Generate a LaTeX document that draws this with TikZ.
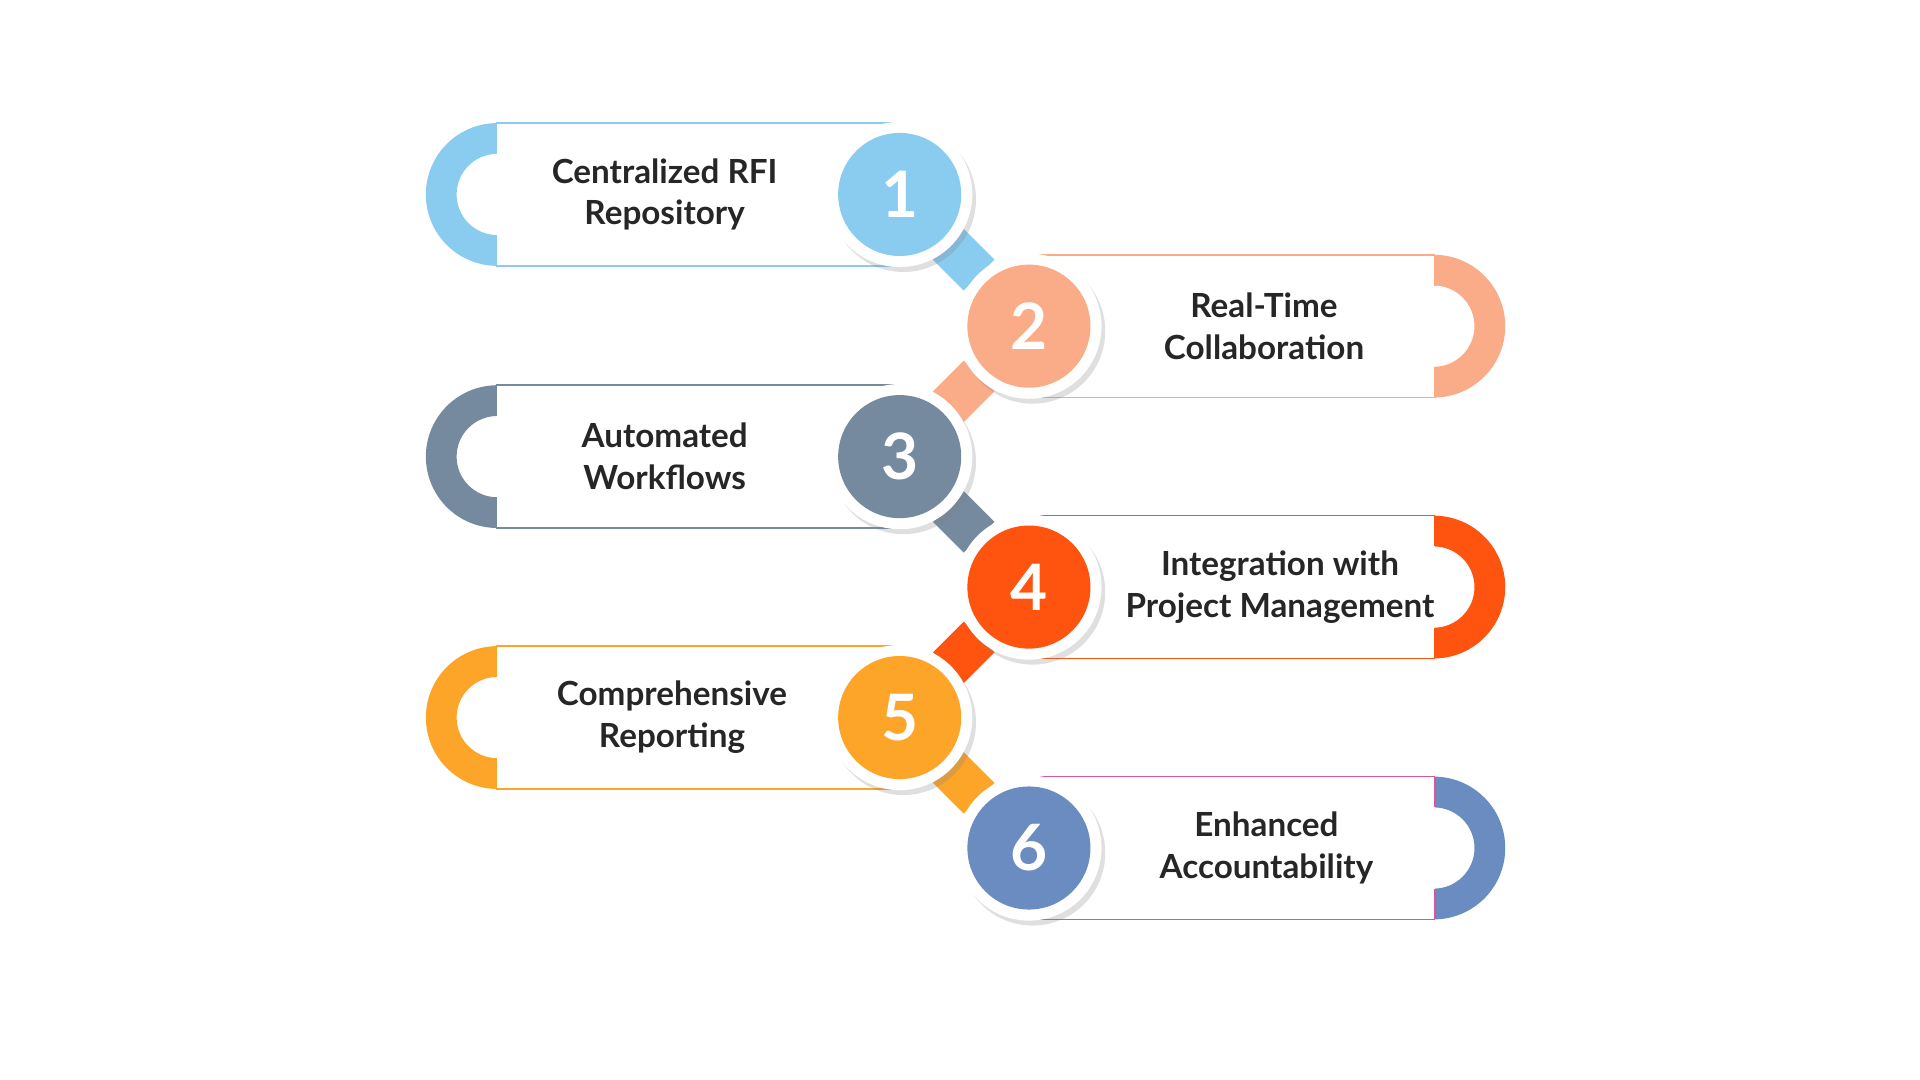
\documentclass[tikz,border=0pt]{standalone}
\usepackage{fontspec}
\setmainfont{Lato}
\usetikzlibrary{shadows}
\definecolor{c1}{HTML}{8ACBF0}
\definecolor{c2}{HTML}{F9AC87}
\definecolor{c3}{HTML}{768A9F}
\definecolor{c4}{HTML}{FF5410}
\definecolor{c5}{HTML}{FCA528}
\definecolor{c6}{HTML}{6A8CC0}
\definecolor{c6b}{HTML}{D9559F}
\tikzset{
  lbl/.style={font=\bfseries\fontsize{27}{34}\selectfont, align=center, text=black!85},
  num/.style={circle, minimum size=100pt, inner sep=0pt, text=white, font=\bfseries\fontsize{52}{52}\selectfont},
  ring/.style={circle, fill=white, minimum size=118pt, inner sep=0pt, drop shadow={shadow xshift=3pt, shadow yshift=-4pt, opacity=0.25}},
}
\begin{document}
\begin{tikzpicture}[x=1pt,y=-1pt]
\useasboundingbox (0,0) rectangle (1560,877.5);
% connectors
\foreach \ya/\col in {158/c1,265/c2,371/c3,477/c4,583/c5}{
  \fill[\col] (783,\ya+28) -- (808,\ya+53) -- (783,\ya+78) -- (758,\ya+53) -- cycle;
}
% left rows
\foreach \y/\col/\n/\t/\tx in {158/c1/1/{Centralized RFI\\Repository}/540, 371/c3/3/{Automated\\Workflows}/540, 583/c5/5/{Comprehensive\\Reporting}/546}{
  \begin{scope}
    \clip (340,\y-60) rectangle (403,\y+60);
    \fill[\col, even odd rule] (404,\y) circle (58) (404,\y) circle (33);
  \end{scope}
  \draw[\col, line width=1.2pt] (403,\y-58) -- (730,\y-58) (403,\y+58) -- (730,\y+58);
  \draw[\col, line width=2pt] (403,\y-58) -- (403,\y-33) (403,\y+33) -- (403,\y+58);
  \node[lbl] at (\tx,\y) {\t};
  \node[ring] at (731,\y) {};
  \node[num, fill=\col] (n\n) at (731,\y) {\n};
}
% right rows
\foreach \y/\col/\bcol/\n/\t/\tx in {265/c2/c2/2/{Real-Time\\Collaboration}/1027, 477/c4/c4/4/{Integration with\\Project Management}/1040, 689/c6/c6b/6/{Enhanced\\Accountability}/1029}{
  \begin{scope}
    \clip (1166,\y-60) rectangle (1230,\y+60);
    \fill[\col, even odd rule] (1165,\y) circle (58) (1165,\y) circle (33);
  \end{scope}
  \draw[\bcol, line width=1.2pt] (836,\y-58) -- (1166,\y-58) (836,\y+58) -- (1166,\y+58);
  \draw[\bcol, line width=2pt] (1166,\y-58) -- (1166,\y-33) (1166,\y+33) -- (1166,\y+58);
  \node[lbl] at (\tx,\y) {\t};
  \node[ring] at (836,\y) {};
  \node[num, fill=\col] (n\n) at (836,\y) {\n};
}
\end{tikzpicture}
\end{document}
